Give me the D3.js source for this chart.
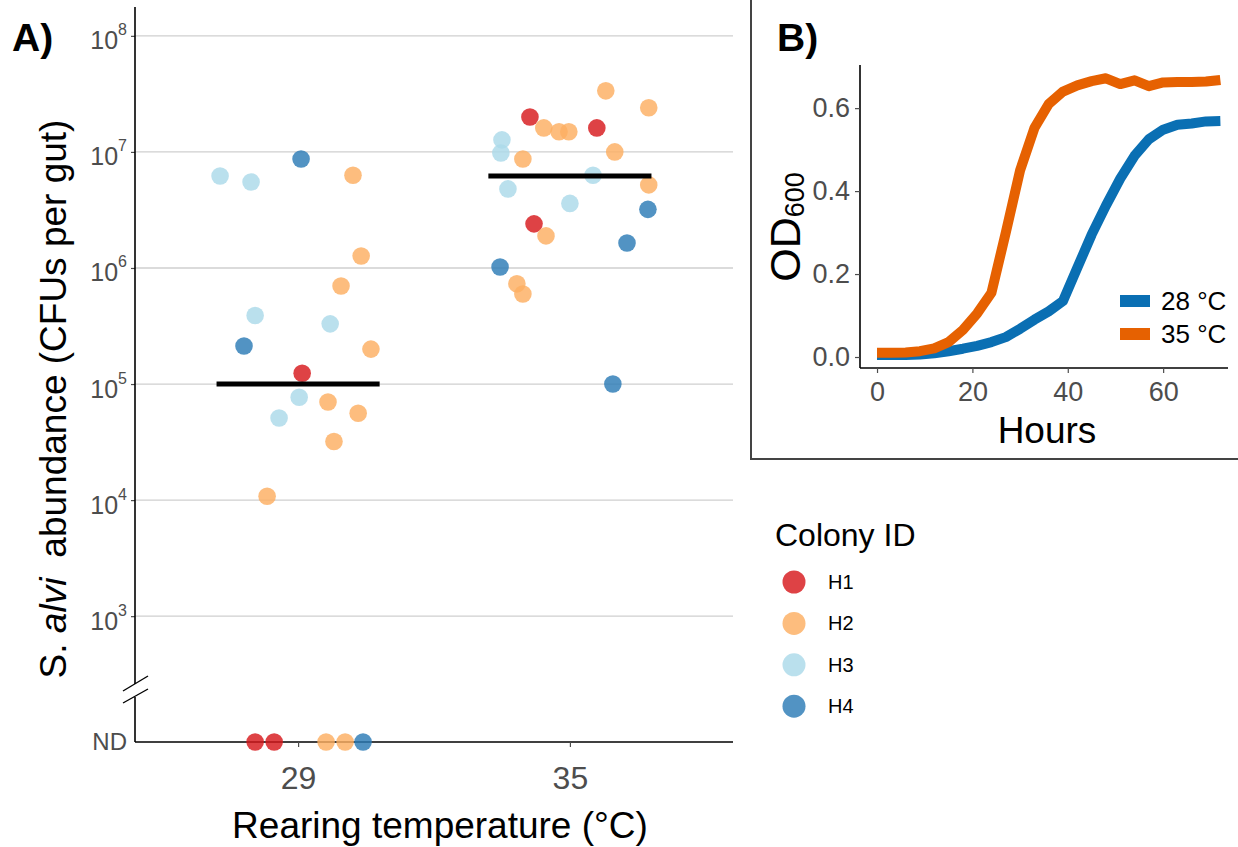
<!DOCTYPE html>
<html><head><meta charset="utf-8">
<script src="https://cdn.jsdelivr.net/npm/d3@7"></script>
<style>
body{margin:0;background:#fff;}
svg{display:block;font-family:"Liberation Sans",Arial,Helvetica,sans-serif;}
</style></head><body>
<svg id="chart" width="1238" height="847"></svg>
<script>
// ---------------- DATA ----------------
const temperatures = ["29", "35"];
const colonyIds = ["H1", "H2", "H3", "H4"];
const yTickExponents = [3, 4, 5, 6, 7, 8];
const ndLabel = "ND";

// detected samples (CFUs per gut), jitter in category units
const sampleTemp = [
  "29","29","29","29","29","29","29","29","29","29","29","29","29","29","29","29","29",
  "35","35","35","35","35","35","35","35","35","35","35","35","35","35","35","35","35","35","35","35","35","35","35"];
const sampleColony = [
  "H3","H3","H4","H2","H2","H2","H3","H3","H4","H2","H1","H3","H2","H2","H3","H2","H2",
  "H2","H2","H1","H2","H2","H2","H1","H3","H3","H2","H2","H3","H2","H3","H3","H4","H1","H2","H4","H4","H2","H2","H4"];
const sampleCFU = [
  6.2e6, 5.5e6, 8.7e6, 6.3e6, 1.27e6, 7.0e5, 3.9e5, 3.3e5, 2.13e5, 2.0e5, 1.24e5, 7.7e4, 7.0e4, 5.6e4, 5.1e4, 3.2e4, 1.08e4,
  3.36e7, 2.4e7, 2.0e7, 1.61e7, 1.49e7, 1.49e7, 1.61e7, 1.27e7, 9.8e6, 8.7e6, 1.0e7, 6.3e6, 5.2e6, 4.8e6, 3.6e6, 3.2e6, 2.4e6, 1.89e6, 1.64e6, 1.02e6, 7.3e5, 5.97e5, 1.0e5];
const sampleJitter = [
  -0.287, -0.173, 0.011, 0.202, 0.232, 0.158, -0.158, 0.118, -0.199, 0.268, 0.015, 0.004, 0.110, 0.221, -0.070, 0.132, -0.114,
  0.132, 0.290, -0.147, -0.096, -0.040, -0.004, 0.099, -0.250, -0.254, -0.173, 0.165, 0.085, 0.290, -0.228, 0.000, 0.287, -0.132, -0.088, 0.210, -0.257, -0.195, -0.173, 0.158];

// not detected samples
const ndTemp = ["29", "29", "29", "29", "29"];
const ndColony = ["H1", "H1", "H2", "H2", "H4"];
const ndJitter = [-0.158, -0.088, 0.103, 0.173, 0.239];

// medians
const medianTemp = ["29", "35"];
const medianCFU = [1.0e5, 6.2e6];

// growth curves (panel B)
const hours = [0,3,6,9,12,15,18,21,24,27,30,33,36,39,42,45,48,51,54,57,60,63,66,69,72];
const od28 = [0.005,0.005,0.005,0.006,0.009,0.014,0.020,0.027,0.036,0.048,0.068,0.090,0.110,0.135,0.215,0.295,0.365,0.430,0.485,0.525,0.548,0.560,0.563,0.568,0.569];
const od35 = [0.010,0.010,0.011,0.014,0.021,0.036,0.065,0.105,0.155,0.300,0.450,0.552,0.610,0.640,0.655,0.665,0.672,0.658,0.667,0.653,0.662,0.663,0.663,0.664,0.668];
const growthLabels = ["28 °C", "35 °C"];
const xTicksB = [0, 20, 40, 60];
const yTicksB = [0, 0.2, 0.4, 0.6];

// ---------------- STYLE ----------------
const colonyColors = ["#d7191c", "#fdae61", "#abd9e9", "#2c7bb6"];
const growthColors = ["#0a6fb3", "#e66101"];
const tickGray = "#4d4d4d";
const FONT = "Liberation Sans, Arial, sans-serif";

const svg = d3.select("#chart");

// ---------------- PANEL A ----------------
const xA = d3.scalePoint().domain(temperatures).range([135, 733]).padding(0.6);
const yA = d3.scaleLog().domain([Math.pow(10, 2.45), Math.pow(10, 8.24)]).range([680, 8]);
const yND = d3.scalePoint().domain([ndLabel]).range([742, 742]);
const colorA = d3.scaleOrdinal().domain(colonyIds).range(colonyColors);
const step = xA.step();

const gA = svg.append("g");

// gridlines
gA.append("g").selectAll("line").data(yTickExponents).join("line")
  .attr("x1", 135).attr("x2", 733)
  .attr("y1", d => yA(Math.pow(10, d))).attr("y2", d => yA(Math.pow(10, d)))
  .attr("stroke", "#cfcfcf").attr("stroke-width", 1.3);

// y axis (upper segment) with ticks
const yAxisA = d3.axisLeft(yA).tickValues(yTickExponents.map(e => Math.pow(10, e))).tickSize(4).tickFormat("");
const yAx = gA.append("g").attr("transform", "translate(135,0)").call(yAxisA);
yAx.select(".domain").remove();
yAx.selectAll(".tick line").attr("stroke", tickGray).attr("stroke-width", 1.2);
yAx.selectAll(".tick").data(yTickExponents).each(function(e) {
  const t = d3.select(this).append("text").attr("x", -8).attr("y", 0).attr("text-anchor", "end")
    .attr("fill", tickGray).style("font-size", "25px").style("font-family", FONT);
  t.append("tspan").attr("dy", "0.52em").text("10");
  t.append("tspan").attr("dy", -14).style("font-size", "16px").text(e);
});
gA.append("line").attr("x1", 135).attr("x2", 135).attr("y1", 7).attr("y2", 684).attr("stroke", "#000").attr("stroke-width", 1.6);
gA.append("line").attr("x1", 135).attr("x2", 135).attr("y1", 697).attr("y2", 742).attr("stroke", "#000").attr("stroke-width", 1.6);
// break marks
gA.append("line").attr("x1", 123).attr("y1", 691).attr("x2", 148).attr("y2", 676).attr("stroke", "#000").attr("stroke-width", 1.4);
gA.append("line").attr("x1", 123).attr("y1", 703).attr("x2", 148).attr("y2", 689).attr("stroke", "#000").attr("stroke-width", 1.4);

// ND label
const ndAxis = d3.axisLeft(yND).tickSize(0).tickPadding(8);
const ndAx = gA.append("g").attr("transform", "translate(135,0)").call(ndAxis);
ndAx.select(".domain").remove();
ndAx.selectAll("text").attr("fill", tickGray).style("font-size", "24px").style("font-family", FONT);

// x axis
const xAxisA = d3.axisBottom(xA).tickSize(5).tickPadding(19);
const xAx = gA.append("g").attr("transform", "translate(0,742)").call(xAxisA);
xAx.select(".domain").attr("stroke", "#000").attr("stroke-width", 1.6).attr("d", "M135,0H733");
xAx.selectAll(".tick line").attr("stroke", tickGray).attr("stroke-width", 1.2);
xAx.selectAll("text").attr("fill", tickGray).style("font-size", "32px").style("font-family", FONT);

// points
const samples = sampleCFU.map((v, i) => ({t: sampleTemp[i], c: sampleColony[i], v, j: sampleJitter[i]}));
gA.append("g").selectAll("circle").data(samples).join("circle")
  .attr("cx", d => xA(d.t) + d.j * step)
  .attr("cy", d => yA(d.v))
  .attr("r", 8.8)
  .attr("fill", d => colorA(d.c)).attr("fill-opacity", 0.82);

const nds = ndTemp.map((t, i) => ({t, c: ndColony[i], j: ndJitter[i]}));
gA.append("g").selectAll("circle").data(nds).join("circle")
  .attr("cx", d => xA(d.t) + d.j * step)
  .attr("cy", yND(ndLabel))
  .attr("r", 8.8)
  .attr("fill", d => colorA(d.c)).attr("fill-opacity", 0.82);

// medians
gA.append("g").selectAll("line").data(medianTemp.map((t, i) => ({t, v: medianCFU[i]}))).join("line")
  .attr("x1", d => xA(d.t) - 0.30 * step).attr("x2", d => xA(d.t) + 0.30 * step)
  .attr("y1", d => yA(d.v)).attr("y2", d => yA(d.v))
  .attr("stroke", "#000").attr("stroke-width", 5);

// axis titles
svg.append("text").attr("x", 440).attr("y", 838).attr("text-anchor", "middle")
  .style("font-size", "37px").attr("fill", "#000").text("Rearing temperature (°C)");
const yt = svg.append("text").attr("transform", "translate(66,399) rotate(-90)").attr("text-anchor", "middle")
  .style("font-size", "37px").attr("fill", "#000");
yt.append("tspan").text("S. ");
yt.append("tspan").style("font-style", "italic").text("alvi");
yt.append("tspan").attr("dx", 20).text("abundance (CFUs per gut)");

// panel label
svg.append("text").attr("x", 12).attr("y", 51).style("font-size", "39px").style("font-weight", "bold").text("A)");

// legend A
const lg = svg.append("g");
lg.append("text").attr("x", 775).attr("y", 546).style("font-size", "32px").attr("fill", "#000").text("Colony ID");
const lgItems = lg.selectAll("g.item").data(colonyIds).join("g").attr("class", "item")
  .attr("transform", (d, i) => `translate(794,${582 + i * 41.4})`);
lgItems.append("circle").attr("r", 11.5).attr("fill", d => colorA(d)).attr("fill-opacity", 0.82);
lgItems.append("text").attr("x", 34).attr("y", 7).style("font-size", "20px").attr("fill", "#000").text(d => d);

// ---------------- PANEL B ----------------
const gB = svg.append("g");
gB.append("line").attr("x1", 751).attr("x2", 751).attr("y1", 0).attr("y2", 459).attr("stroke", "#444").attr("stroke-width", 2);
gB.append("line").attr("x1", 750).attr("x2", 1238).attr("y1", 459).attr("y2", 459).attr("stroke", "#444").attr("stroke-width", 2);

const xB = d3.scaleLinear().domain([-3.57, 73.6]).range([860, 1228]);
const yB = d3.scaleLinear().domain([-0.0265, 0.704]).range([368, 65]);

const xAxB = gB.append("g").attr("transform", "translate(0,368)")
  .call(d3.axisBottom(xB).tickValues(xTicksB).tickSize(5).tickPadding(9).tickFormat(d3.format("d")));
xAxB.select(".domain").attr("stroke", "#000").attr("stroke-width", 1.6).attr("d", "M860,0H1228");
xAxB.selectAll(".tick line").attr("stroke", tickGray).attr("stroke-width", 1.2);
xAxB.selectAll("text").attr("fill", tickGray).style("font-size", "27px").style("font-family", FONT);

const yAxB = gB.append("g").attr("transform", "translate(860,0)")
  .call(d3.axisLeft(yB).tickValues(yTicksB).tickSize(5).tickPadding(5).tickFormat(d3.format(".1f")));
yAxB.select(".domain").attr("stroke", "#000").attr("stroke-width", 1.6).attr("d", "M0,65V368");
yAxB.selectAll(".tick line").attr("stroke", tickGray).attr("stroke-width", 1.2);
yAxB.selectAll("text").attr("fill", tickGray).style("font-size", "27px").style("font-family", FONT);

const lineGen = d3.line().x((d, i) => xB(hours[i])).y(d => yB(d));
[od28, od35].forEach((series, k) => {
  gB.append("path").datum(series).attr("d", lineGen)
    .attr("fill", "none").attr("stroke", growthColors[k]).attr("stroke-width", 10)
    .attr("stroke-linejoin", "round").attr("stroke-linecap", "butt");
});

// legend B
const lgB = gB.selectAll("g.lgb").data(growthLabels).join("g").attr("class", "lgb")
  .attr("transform", (d, i) => `translate(1120,${301 + i * 33})`);
lgB.append("rect").attr("x", 0).attr("y", -6).attr("width", 30).attr("height", 12).attr("fill", (d, i) => growthColors[i]);
lgB.append("text").attr("x", 41).attr("y", 9).style("font-size", "26px").attr("fill", "#000").text(d => d);

// titles B
gB.append("text").attr("x", 1047).attr("y", 443).attr("text-anchor", "middle").style("font-size", "37px").text("Hours");
const odt = gB.append("text").attr("transform", "translate(800,227) rotate(-90)").attr("text-anchor", "middle").style("font-size", "43px");
odt.append("tspan").text("OD");
odt.append("tspan").attr("dy", 4).style("font-size", "27px").text("600");

gB.append("text").attr("x", 777).attr("y", 51).style("font-size", "39px").style("font-weight", "bold").text("B)");
</script>
</body></html>
